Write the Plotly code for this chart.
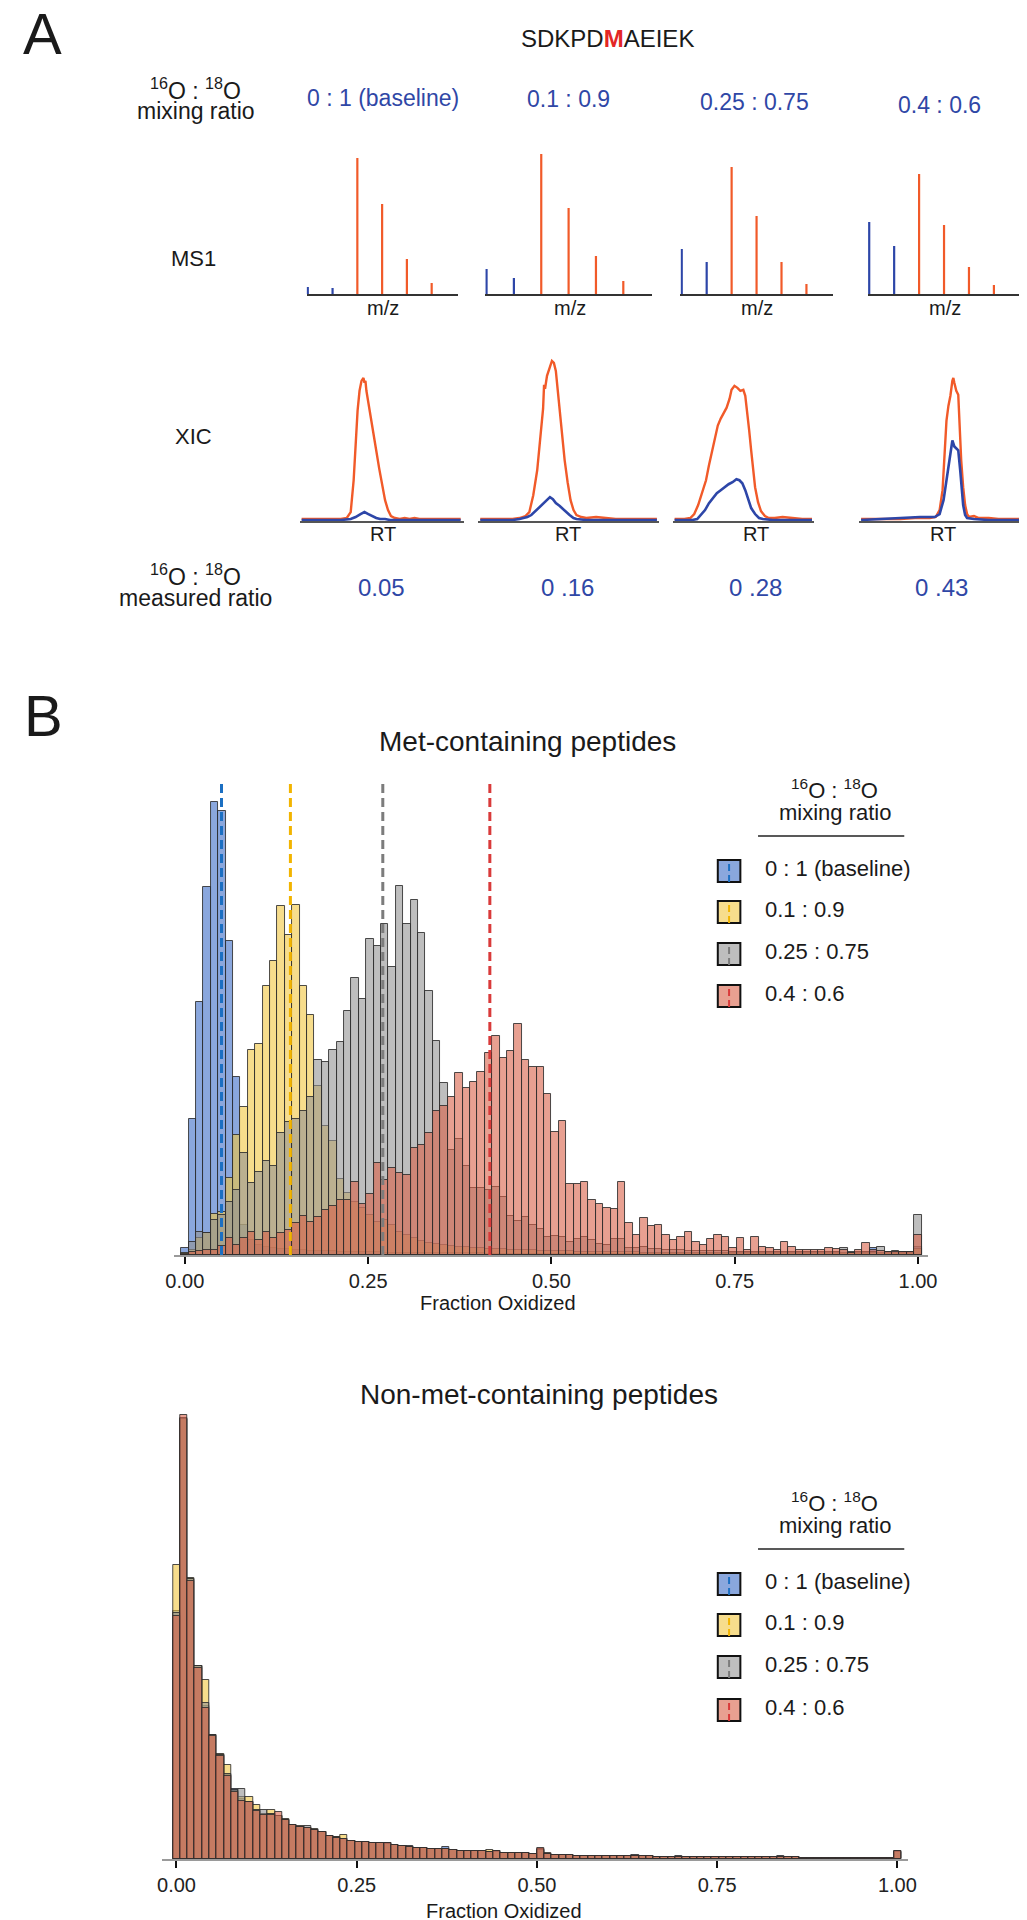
import plotly.graph_objects as go

W, H = 1027, 1920
FONT = "Liberation Sans, Arial, sans-serif"

# ---------------- DATA ----------------
mixing_labels = ["0 : 1 (baseline)", "0.1 : 0.9", "0.25 : 0.75", "0.4 : 0.6"]
measured_labels = ["0.05", "0 .16", "0 .28", "0 .43"]

# MS1 isotope envelope (relative intensity); 16O peaks (blue) then 18O peaks (orange)
ms1_light_pos = [0, 1]
ms1_heavy_pos = [2, 3, 4, 5]
ms1_light = [[7, 6], [25, 16], [45, 32], [72, 48]]
ms1_heavy = [[136, 90, 35, 11], [140, 86, 38, 13], [127, 78, 32, 10], [120, 69, 27, 9]]

# XIC traces (retention time in arbitrary units, intensity)
xic_heavy_rt = [
    [290, 300, 310, 320, 330, 336, 340, 343, 345, 347, 349, 351, 353, 354, 355, 356, 358, 360, 363, 366, 369, 372, 375, 378, 381, 385, 390, 395, 400, 405, 410, 420, 430, 440, 452],
    [472, 490, 505, 512, 518, 522, 526, 530, 533, 536, 537, 538, 540, 542, 544, 545, 547, 549, 551, 553, 555, 558, 561, 564, 567, 570, 575, 580, 590, 600, 610, 620, 635, 652],
    [670, 680, 686, 690, 694, 698, 702, 705, 708, 711, 714, 717, 720, 723, 726, 728, 731, 734, 737, 740, 742, 744, 746, 748, 750, 752, 755, 758, 762, 766, 772, 780, 790, 800, 810],
    [860, 880, 900, 915, 930, 936, 940, 943, 945, 947, 949, 951, 953, 954, 955, 957, 959, 960, 961, 962, 964, 966, 968, 970, 975, 980, 990, 1000, 1010, 1023],
]
xic_heavy = [
    [1, 1, 1, 1, 1, 2, 8, 40, 80, 110, 130, 140, 143, 138, 140, 130, 118, 105, 88, 70, 52, 35, 20, 10, 4, 2, 1, 2, 1, 2, 1, 1, 1, 1, 1],
    [1, 1, 1, 2, 4, 8, 25, 50, 80, 112, 136, 132, 145, 152, 158, 160, 158, 150, 130, 110, 90, 60, 38, 20, 10, 5, 3, 2, 3, 2, 1, 1, 1, 1],
    [1, 1, 2, 6, 15, 28, 40, 55, 68, 80, 95, 102, 108, 113, 122, 131, 135, 133, 130, 131, 125, 110, 90, 70, 48, 33, 18, 9, 4, 2, 2, 3, 2, 1, 1],
    [1, 1, 1, 2, 2, 3, 10, 30, 60, 100, 115, 125, 140, 143, 138, 130, 126, 100, 80, 60, 33, 15, 6, 3, 4, 2, 2, 1, 1, 1],
]
xic_light_rt = [
    [290, 330, 340, 345, 350, 354, 358, 362, 366, 370, 375, 380, 390, 420, 452],
    [472, 505, 512, 517, 520, 524, 529, 534, 538, 541, 543, 546, 549, 553, 557, 560, 563, 567, 570, 580, 600, 652],
    [670, 688, 693, 697, 701, 705, 709, 713, 717, 721, 725, 729, 733, 736, 739, 742, 745, 748, 752, 756, 760, 770, 790, 810],
    [860, 880, 900, 920, 935, 940, 944, 946, 948, 950, 952, 953, 955, 957, 959, 961, 962.5, 964, 966, 968, 975, 990, 1023],
]
xic_light = [
    [0, 0, 1, 3, 6, 8, 6, 4, 2, 1, 1, 0, 0, 0, 0],
    [0, 0, 1, 2, 3, 5, 10, 15, 19, 22, 23, 21, 17, 14, 10, 7, 5, 2, 1, 0, 0, 0],
    [0, 0, 1, 5, 10, 17, 22, 27, 30, 33, 36, 38, 41, 40, 37, 30, 20, 12, 6, 2, 1, 0, 0, 0],
    [0, 1, 2, 3, 3, 6, 20, 33, 48, 62, 76, 80, 74, 72, 70, 50, 33, 15, 5, 2, 1, 0, 0],
]

# Histogram counts (100 bins over Fraction Oxidized 0..1)
met_blue = [7, 136, 253, 368, 453, 444, 314, 178, 30, 15,
            10, 8, 7, 6, 6, 5, 5, 4, 4, 4,
            4, 3, 3, 3, 3, 3, 3, 2, 2, 2,
            2, 2, 2, 2, 2, 2, 2, 2, 2, 2,
            2, 1, 1, 1, 1, 1, 1, 1, 1, 1,
            1, 1, 1, 1, 1, 1, 1, 1, 1, 1,
            1, 1, 1, 1, 1, 1, 1, 1, 1, 1,
            1, 1, 1, 1, 1, 1, 1, 1, 1, 1,
            1, 1, 1, 1, 1, 1, 1, 1, 1, 1,
            1, 1, 1, 7, 1, 1, 1, 1, 1, 8]
met_yellow = [2, 5, 17, 22, 41, 43, 77, 120, 148, 205,
              211, 269, 294, 349, 320, 350, 269, 240, 169, 129,
              114, 76, 62, 53, 47, 40, 33, 35, 30, 23,
              20, 17, 14, 12, 11, 10, 9, 8, 8, 7,
              7, 6, 6, 6, 5, 5, 5, 5, 4, 4,
              4, 4, 4, 3, 3, 3, 3, 3, 3, 3,
              3, 3, 2, 2, 2, 2, 2, 2, 2, 2,
              2, 2, 2, 2, 2, 2, 2, 2, 2, 2,
              2, 2, 2, 2, 2, 2, 2, 2, 2, 2,
              2, 2, 2, 2, 2, 2, 2, 2, 2, 6]
met_gray = [0, 13, 23, 22, 35, 40, 53, 65, 102, 72,
            83, 94, 89, 122, 133, 136, 144, 158, 195, 193,
            205, 213, 244, 277, 256, 316, 309, 331, 288, 369,
            331, 355, 322, 264, 214, 172, 105, 116, 89, 67,
            67, 65, 68, 58, 39, 34, 38, 30, 26, 18,
            19, 18, 13, 16, 18, 15, 11, 10, 16, 16,
            7, 7, 8, 6, 6, 5, 5, 5, 4, 4,
            4, 4, 4, 4, 3, 3, 3, 3, 3, 3,
            3, 3, 3, 3, 3, 3, 3, 3, 3, 7,
            3, 3, 3, 3, 8, 3, 4, 3, 3, 40]
met_red = [1, 3, 4, 5, 5, 9, 17, 10, 17, 23,
           15, 23, 17, 22, 25, 32, 39, 33, 38, 45,
           49, 55, 55, 73, 51, 61, 92, 75, 87, 82,
           80, 107, 110, 122, 144, 149, 158, 182, 167, 173,
           183, 202, 219, 197, 204, 231, 195, 188, 188, 161,
           123, 134, 71, 71, 73, 55, 51, 47, 46, 73,
           32, 20, 37, 29, 30, 20, 15, 18, 23, 13,
           10, 16, 20, 18, 7, 17, 5, 18, 8, 7,
           5, 13, 8, 5, 5, 5, 5, 7, 6, 5,
           2, 5, 12, 5, 4, 3, 3, 3, 3, 20]
met_mean_ratio = [0.05, 0.144, 0.27, 0.416]

nonmet_blue = [248, 440, 280, 193, 153, 124, 104, 84, 70, 60,
               57, 49, 45, 45, 43, 39, 34, 32, 31, 29,
               27, 23, 22, 20, 18, 17, 17, 16, 16, 16,
               14, 13, 13, 11, 11, 10, 10, 12, 9, 8,
               8, 8, 8, 7, 8, 6, 6, 6, 6, 5,
               9, 5, 4, 4, 4, 3, 3, 3, 3, 3,
               3, 3, 3, 4, 3, 3, 2, 2, 2, 3,
               2, 2, 2, 2, 2, 2, 2, 2, 2, 2,
               2, 2, 2, 3, 2, 2, 1, 1, 1, 1,
               1, 1, 1, 1, 1, 1, 1, 1, 1, 7]
nonmet_yellow = [294, 440, 281, 193, 179, 124, 105, 94, 68, 62,
                 62, 54, 45, 49, 43, 40, 34, 33, 31, 30,
                 27, 23, 22, 24, 18, 17, 17, 16, 16, 15,
                 14, 13, 12, 11, 11, 10, 10, 10, 9, 8,
                 8, 8, 8, 9, 7, 6, 6, 6, 6, 5,
                 9, 6, 4, 4, 4, 3, 3, 3, 3, 3,
                 3, 3, 3, 3, 3, 3, 2, 2, 2, 2,
                 2, 2, 2, 2, 2, 2, 2, 2, 2, 2,
                 2, 2, 2, 2, 2, 2, 1, 1, 1, 1,
                 1, 1, 1, 1, 1, 1, 1, 1, 1, 7]
nonmet_gray = [246, 441, 280, 193, 156, 124, 104, 85, 69, 70,
               57, 49, 49, 45, 43, 39, 34, 32, 33, 29,
               27, 23, 21, 20, 18, 17, 17, 16, 16, 16,
               14, 13, 12, 11, 11, 10, 10, 10, 9, 8,
               8, 8, 8, 7, 8, 6, 6, 6, 6, 5,
               10, 5, 4, 4, 4, 3, 3, 3, 3, 3,
               3, 3, 3, 3, 3, 3, 2, 2, 2, 2,
               2, 2, 2, 2, 2, 2, 2, 2, 2, 2,
               2, 2, 2, 2, 2, 2, 1, 1, 1, 1,
               1, 1, 1, 1, 1, 1, 1, 1, 1, 8]
nonmet_red = [243, 444, 278, 191, 151, 123, 103, 83, 67, 58,
              57, 48, 44, 44, 47, 39, 34, 32, 31, 29,
              27, 23, 21, 20, 18, 17, 17, 16, 16, 16,
              14, 13, 12, 11, 11, 10, 10, 10, 9, 8,
              8, 8, 8, 7, 8, 6, 6, 6, 6, 5,
              11, 5, 4, 4, 4, 3, 3, 3, 3, 3,
              3, 3, 3, 3, 3, 3, 2, 2, 2, 2,
              2, 2, 2, 2, 2, 2, 2, 2, 2, 2,
              2, 2, 2, 2, 2, 2, 1, 1, 1, 1,
              1, 1, 1, 1, 1, 1, 1, 1, 1, 8]

hist_tickvals = [0, 0.25, 0.5, 0.75, 1.0]
hist_ticktext = ["0.00", "0.25", "0.50", "0.75", "1.00"]

# ---------------- STYLE ----------------
BLUE_TXT = "#2f47a6"
ORANGE = "#f15a29"
BLUE_LINE = "#2d46a8"
fills = ["rgba(60,108,198,0.6)", "rgba(242,198,63,0.6)", "rgba(147,147,147,0.6)", "rgba(217,97,72,0.6)"]
dash_cols = ["#1b6fc2", "#f2b400", "#7c7c7c", "#d93a3a"]


def px(x):
    return x / W


def py(y):
    return 1 - y / H


fig = go.Figure()
layout = {}
annotations = []
shapes = []

# ---------- Panel A : MS1 ----------
ms1_dom = [(295, 449), (477, 647), (676, 831), (867, 1022)]
ms1_base, ms1_top = 286, 136
xic_dom = [(288, 455), (470, 654), (668, 812), (858, 1025)]
xic_base, xic_top = 513, 348

ax = 1
for k in range(4):
    xs, ys = [], []
    for p, h in zip(ms1_light_pos, ms1_light[k]):
        xs += [p, p, None]
        ys += [0, h, None]
    fig.add_trace(go.Scatter(x=xs, y=ys, mode="lines", line=dict(color=BLUE_LINE, width=2.2),
                             xaxis=f"x{ax}", yaxis=f"y{ax}", showlegend=False, hoverinfo="skip"))
    xs, ys = [], []
    for p, h in zip(ms1_heavy_pos, ms1_heavy[k]):
        xs += [p, p, None]
        ys += [0, h, None]
    fig.add_trace(go.Scatter(x=xs, y=ys, mode="lines", line=dict(color=ORANGE, width=2.2),
                             xaxis=f"x{ax}", yaxis=f"y{ax}", showlegend=False, hoverinfo="skip"))
    x0, x1 = ms1_dom[k]
    layout[f"xaxis{ax}"] = dict(domain=[px(x0), px(x1)], range=[-0.05, 6.05], showline=True,
                                linecolor="#333", linewidth=1.6, showticklabels=False, ticks="",
                                showgrid=False, zeroline=False, anchor=f"y{ax}")
    layout[f"yaxis{ax}"] = dict(domain=[py(ms1_base), py(ms1_top)], range=[0, 150], visible=False,
                                anchor=f"x{ax}")
    ax += 1

# ---------- Panel A : XIC ----------
for k in range(4):
    fig.add_trace(go.Scatter(x=xic_heavy_rt[k], y=xic_heavy[k], mode="lines",
                             line=dict(color=ORANGE, width=2.4),
                             xaxis=f"x{ax}", yaxis=f"y{ax}", showlegend=False, hoverinfo="skip"))
    fig.add_trace(go.Scatter(x=xic_light_rt[k], y=xic_light[k], mode="lines",
                             line=dict(color=BLUE_LINE, width=2.6),
                             xaxis=f"x{ax}", yaxis=f"y{ax}", showlegend=False, hoverinfo="skip"))
    x0, x1 = xic_dom[k]
    layout[f"xaxis{ax}"] = dict(domain=[px(x0), px(x1)], range=[x0, x1], showline=True,
                                linecolor="#555", linewidth=2, showticklabels=False, ticks="",
                                showgrid=False, zeroline=False, anchor=f"y{ax}")
    layout[f"yaxis{ax}"] = dict(domain=[py(xic_base), py(xic_top)], range=[-1, 165], visible=False,
                                anchor=f"x{ax}")
    ax += 1

# ---------- Panel B : histograms ----------
bin_w = 1.0 / 99
centers = [i * bin_w for i in range(100)]


def add_hist(axn, series, xdom, x0px, x1px, base, top, means):
    for s, col in zip(series, fills):
        fig.add_trace(go.Bar(x=centers, y=s, width=bin_w, marker=dict(color=col,
                             line=dict(color="rgba(45,45,45,0.85)", width=1)),
                             xaxis=f"x{axn}", yaxis=f"y{axn}", showlegend=False, hoverinfo="skip"))
    a, b = xdom
    scale = (x1px - x0px)
    r0 = (a - x0px) / scale
    r1 = (b - x0px) / scale
    layout[f"xaxis{axn}"] = dict(domain=[px(a), px(b)], range=[r0, r1], showline=True,
                                 linecolor="#9a9a9a", linewidth=2, ticks="outside", ticklen=7,
                                 tickwidth=2, tickcolor="#111", tickvals=hist_tickvals,
                                 ticktext=hist_ticktext, tickfont=dict(size=20, color="#222", family=FONT),
                                 showgrid=False, zeroline=False, anchor=f"y{axn}")
    layout[f"yaxis{axn}"] = dict(domain=[py(base), py(top)], range=[0, base - top], visible=False,
                                 anchor=f"x{axn}")
    for m, c in zip(means, dash_cols):
        shapes.append(dict(type="line", xref=f"x{axn}", yref=f"y{axn} domain", x0=m, x1=m, y0=0, y1=1,
                           line=dict(color=c, width=3, dash="9px,5px"), layer="above"))


add_hist(ax, [met_blue, met_yellow, met_gray, met_red], (160, 928), 171, 918, 1247, 772, met_mean_ratio)
ax += 1
add_hist(ax, [nonmet_blue, nonmet_yellow, nonmet_gray, nonmet_red], (148, 908), 162.5, 897, 1851, 1390, [])
ax += 1

layout["barmode"] = "overlay"
layout["bargap"] = 0


# ---------- Text ----------
def txt(x, y, s, size=24, color="#1a1a1a", xanchor="center", family=FONT):
    y = y - 0.12 * size
    annotations.append(dict(x=px(x), y=py(y), xref="paper", yref="paper", text=s, showarrow=False,
                            xanchor=xanchor, yanchor="middle", font=dict(size=size, color=color, family=family)))


txt(26, 32, "A", size=58)
txt(27, 714, "B", size=58)
txt(602, 33, "SDKPD<b><span style='color:#e32626'>M</span></b>AEIEK", size=24)
txt(182, 84, "<sup>16</sup>O : <sup>18</sup>O", size=23)
txt(182, 106, "mixing ratio", size=23)
for xc, yc, lab in zip([373, 562, 751, 940], [93, 94, 97, 100], mixing_labels):
    txt(xc, yc, lab, size=23, color=BLUE_TXT)
txt(180, 253, "MS1", size=22)
txt(180, 431, "XIC", size=22)
for xc in [373, 563, 754, 945]:
    txt(xc, 302, "m/z", size=20)
for xc in [373, 561, 753, 943]:
    txt(xc, 528, "RT", size=20)
txt(182, 570, "<sup>16</sup>O : <sup>18</sup>O", size=23)
txt(182, 593, "measured ratio", size=23)
for xc, lab in zip([371, 561, 752, 942], measured_labels):
    txt(xc, 582, lab, size=24, color=BLUE_TXT)

txt(520, 737, "Met-containing peptides", size=28)
txt(490, 1297, "Fraction Oxidized", size=20)
txt(532, 1390, "Non-met-containing peptides", size=28)
txt(496, 1905, "Fraction Oxidized", size=20)


# ---------- Legends ----------
def legend(title_y, underline_y, item_ys):
    txt(833, title_y, "<sup>16</sup>O : <sup>18</sup>O", size=22)
    txt(833, title_y + 23, "mixing ratio", size=22)
    shapes.append(dict(type="line", xref="paper", yref="paper", x0=px(755), x1=px(904),
                       y0=py(underline_y), y1=py(underline_y), line=dict(color="#222", width=1.5)))
    for cy, lab, fc, dc in zip(item_ys, mixing_labels, fills, dash_cols):
        shapes.append(dict(type="rect", xref="paper", yref="paper", x0=px(714), x1=px(737),
                           y0=py(cy + 11), y1=py(cy - 11), fillcolor=fc, line=dict(color="#111", width=2)))
        shapes.append(dict(type="line", xref="paper", yref="paper", x0=px(725.5), x1=px(725.5),
                           y0=py(cy + 11), y1=py(cy - 11), line=dict(color=dc, width=2, dash="7px,4px")))
        txt(760, cy, lab, size=22, xanchor="left")


legend(784, 828, [863, 904, 946, 988])
legend(1497, 1541, [1576, 1617, 1659, 1702])

layout.update(dict(width=W, height=H, margin=dict(l=0, r=0, t=0, b=0), paper_bgcolor="white",
                   plot_bgcolor="rgba(0,0,0,0)", annotations=annotations, shapes=shapes,
                   font=dict(family=FONT)))
fig.update_layout(**layout)
fig.write_html("out.html")
